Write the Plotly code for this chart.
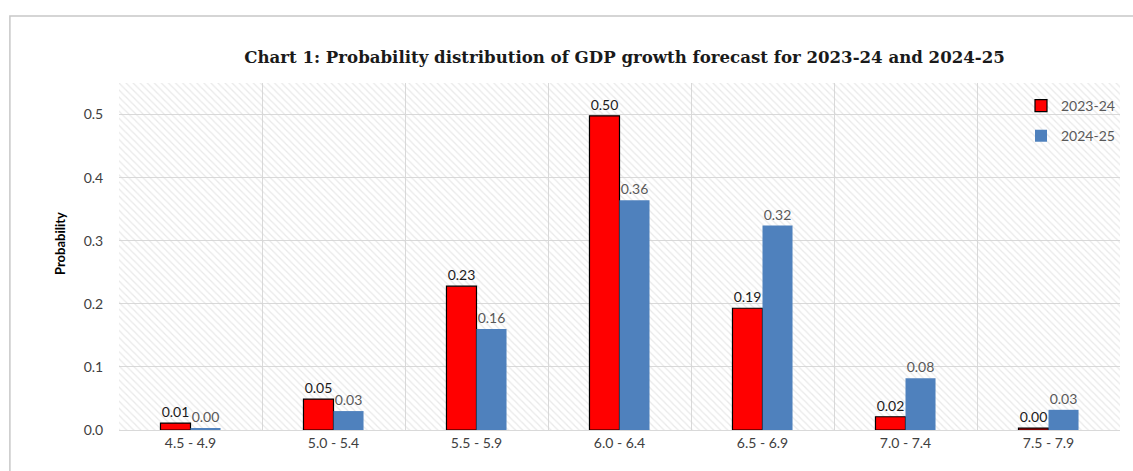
import plotly.graph_objects as go

categories = ["4.5 - 4.9", "5.0 - 5.4", "5.5 - 5.9", "6.0 - 6.4", "6.5 - 6.9", "7.0 - 7.4", "7.5 - 7.9"]
fy_2023_24 = [0.011, 0.049, 0.228, 0.498, 0.193, 0.021, 0.003]
fy_2024_25 = [0.003, 0.030, 0.160, 0.364, 0.324, 0.082, 0.032]
y_ticks = [0.0, 0.1, 0.2, 0.3, 0.4, 0.5]
y_max = 0.55

fig = go.Figure()

# hatched plot-area background (decoration)
fig.add_trace(go.Bar(
    x=[0.5], y=[y_max], width=[1], xaxis="x", yaxis="y",
    marker=dict(color="rgba(0,0,0,0)", line=dict(width=0),
                pattern=dict(shape="\\", fgcolor="#d4d4d4", bgcolor="rgba(0,0,0,0)",
                             size=5, solidity=0.25, fillmode="overlay")),
    showlegend=False, hoverinfo="skip",
))

fig.add_trace(go.Bar(
    x=categories, y=fy_2023_24, name="2023-24", xaxis="x2", yaxis="y",
    marker=dict(color="#FF0000", line=dict(color="#000000", width=1.2)),
    texttemplate="%{y:.2f}", textposition="outside",
    textfont=dict(family="Lato", size=14, color="#1a1a1a"),
    cliponaxis=False, legendgroup="a",
))
fig.add_trace(go.Bar(
    x=categories, y=fy_2024_25, name="2024-25", xaxis="x2", yaxis="y",
    marker=dict(color="#4F81BD", line=dict(width=0)),
    texttemplate="%{y:.2f}", textposition="outside",
    textfont=dict(family="Lato", size=14, color="#595959"),
    cliponaxis=False, legendgroup="b",
))

fig.update_layout(
    width=1133, height=471,
    margin=dict(l=119, r=13, t=83, b=41),
    paper_bgcolor="white", plot_bgcolor="white",
    barmode="group", bargap=0.58, bargroupgap=0.0,
    font=dict(family="Lato", size=12, color="#404040"),
    title=dict(
        text="Chart 1: Probability distribution of GDP growth forecast for 2023-24 and 2024-25",
        x=0.505, xref="paper", xanchor="center", y=1 - 57 / 471, yref="container", yanchor="middle",
        font=dict(family="DejaVu Serif", size=16.6, color="#1a1a1a", weight="bold"),
    ),
    xaxis=dict(range=[0, 1], visible=False, showgrid=False, fixedrange=True),
    xaxis2=dict(
        overlaying="x", type="category", showgrid=True, gridcolor="#d9d9d9", gridwidth=1,
        tickson="boundaries", ticks="", showline=True, linecolor="#d9d9d9",
        tickfont=dict(family="Lato", size=14, color="#404040"),
        side="bottom",
    ),
    yaxis=dict(
        range=[0, y_max], tickvals=y_ticks, ticktext=[f"{v:.1f}" for v in y_ticks],
        showgrid=True, gridcolor="#d9d9d9", gridwidth=1, zeroline=False,
        showline=False, ticks="outside", ticklen=12, tickcolor="rgba(0,0,0,0)",
        tickfont=dict(family="Lato", size=14, color="#404040"),
    ),
    legend=dict(
        x=1.0, xanchor="right", y=0.98, yanchor="top", bgcolor="rgba(0,0,0,0)",
        font=dict(family="Lato", size=14, color="#595959"), tracegroupgap=9,
        itemwidth=30,
    ),
    annotations=[dict(text="<b>Probability</b>", textangle=-90, xref="paper", yref="paper",
                      x=(60 - 119) / 1001, y=(430 - 244) / 347, xanchor="center", yanchor="middle",
                      showarrow=False, font=dict(family="Lato", size=13, color="#000000"))],
    shapes=[dict(type="rect", xref="paper", yref="paper", x0=-0.109, x1=1.03, y0=-0.2, y1=1.193,
                 line=dict(color="#c8c8c8", width=1.5), fillcolor="rgba(0,0,0,0)", layer="below")],
)

fig.write_html("out.html")
